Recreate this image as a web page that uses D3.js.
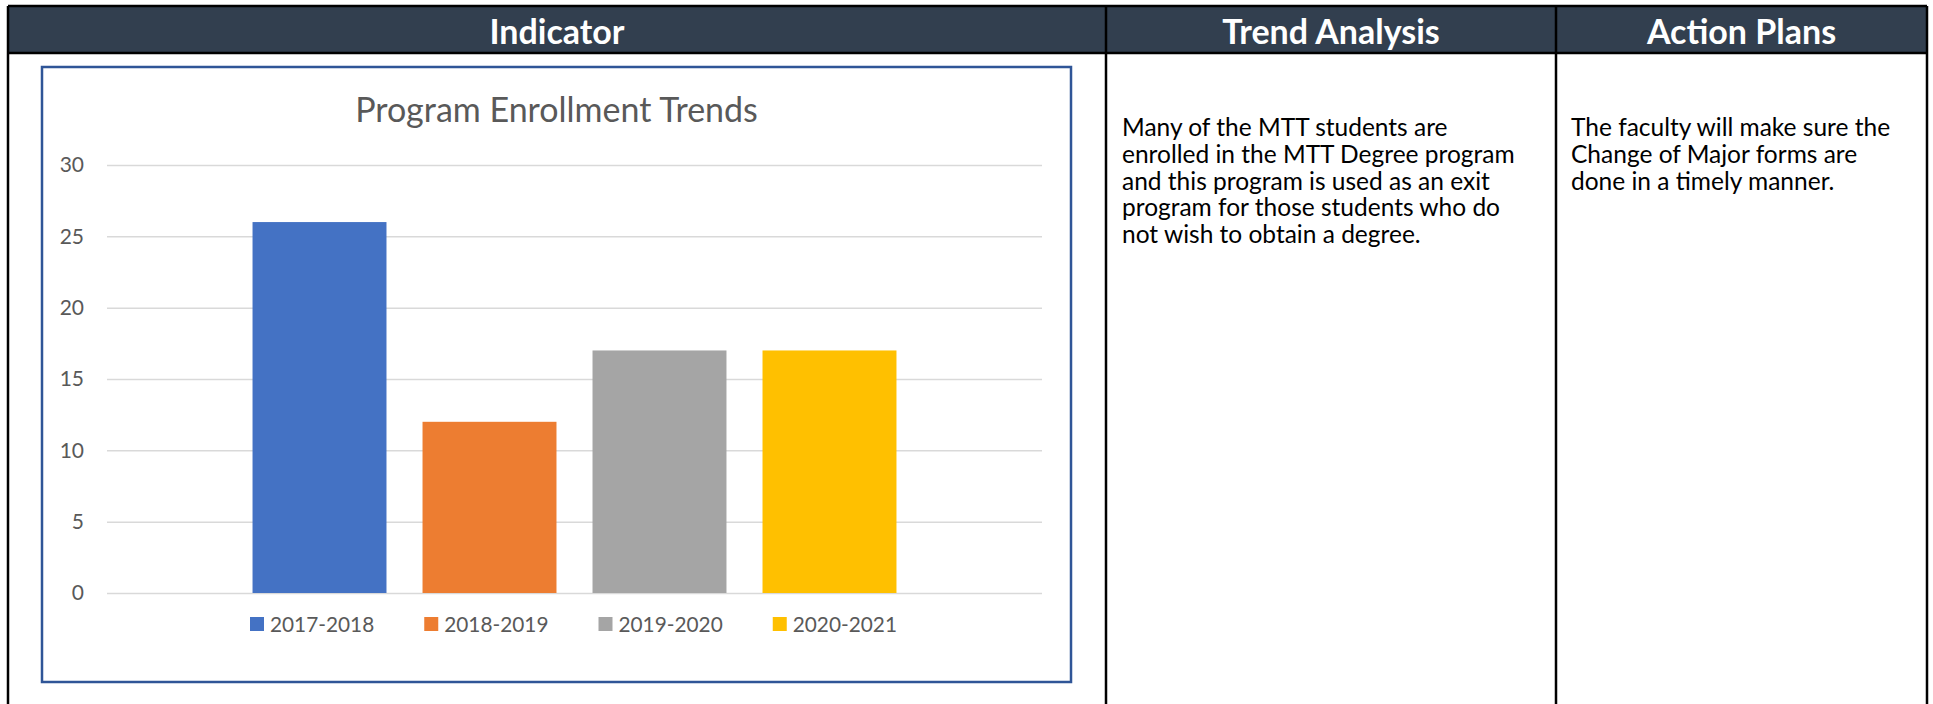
<!DOCTYPE html>
<html>
<head>
<meta charset="utf-8">
<script src="https://cdn.jsdelivr.net/npm/d3@7"></script>
<style>
  html, body { margin: 0; padding: 0; background: #fff; }
  svg { display: block; font-family: Lato, "Noto Sans", sans-serif; }
</style>
</head>
<body>
<svg class="sheet"></svg>
<script>
// table + chart content
var columns = ["Indicator", "Trend Analysis", "Action Plans"];
var trendLines = [
	"Many of the MTT students are",
	"enrolled in the MTT Degree program",
	"and this program is used as an exit",
	"program for those students who do",
	"not wish to obtain a degree."
];
var actionLines = [
	"The faculty will make sure the",
	"Change of Major forms are",
	"done in a timely manner."
];

var chartTitle = "Program Enrollment Trends";
var category = ["Enrollment"];
var seasons = ["2017-2018", "2018-2019", "2019-2020", "2020-2021"];
var enrollment = [26, 12, 17, 17];
var yTicks = [0, 5, 10, 15, 20, 25, 30];
var colors = ["#4472C4", "#ED7D31", "#A5A5A5", "#FFC000"];

var width = 1933, height = 704;
var svg = d3.select(".sheet").attr("width", width).attr("height", height);

// table layout
var tableLeft = 8, tableRight = 1927, tableTop = 6, headBottom = 53;
var colEdges = [tableLeft, 1106, 1556, tableRight];

svg.append("rect")
	.attr("x", tableLeft).attr("y", tableTop)
	.attr("width", tableRight - tableLeft).attr("height", headBottom - tableTop)
	.attr("fill", "#323F4F");

svg.append("g").selectAll("text")
	.data(columns)
	.enter().append("text")
	.attr("x", function (d, i) { return (colEdges[i] + colEdges[i + 1]) / 2; })
	.attr("y", 44)
	.attr("text-anchor", "middle")
	.attr("fill", "#fff")
	.attr("font-weight", "bold")
	.attr("font-size", 34)
	.text(function (d) { return d; });

var lines = svg.append("g").attr("stroke", "#000").attr("stroke-width", 2.5);
lines.append("line").attr("x1", tableLeft).attr("x2", tableRight).attr("y1", tableTop).attr("y2", tableTop);
lines.append("line").attr("x1", tableLeft).attr("x2", tableRight).attr("y1", headBottom).attr("y2", headBottom);
lines.selectAll(".v")
	.data(colEdges)
	.enter().append("line")
	.attr("class", "v")
	.attr("x1", function (d) { return d; }).attr("x2", function (d) { return d; })
	.attr("y1", tableTop).attr("y2", height);

function textBlock(rows, x) {
	svg.append("g").selectAll("text")
		.data(rows)
		.enter().append("text")
		.attr("x", x)
		.attr("y", function (d, i) { return 136 + i * 26.8; })
		.attr("font-size", 24.5)
		.attr("fill", "#000")
		.text(function (d) { return d; });
}
textBlock(trendLines, 1122);
textBlock(actionLines, 1571);

// chart frame
var frame = { left: 42, top: 67, right: 1071, bottom: 682 };
svg.append("rect")
	.attr("x", frame.left).attr("y", frame.top)
	.attr("width", frame.right - frame.left).attr("height", frame.bottom - frame.top)
	.attr("fill", "#fff")
	.attr("stroke", "#2F5597")
	.attr("stroke-width", 2.5);

svg.append("text")
	.attr("x", (frame.left + frame.right) / 2)
	.attr("y", 122)
	.attr("text-anchor", "middle")
	.attr("font-size", 34)
	.attr("fill", "#595959")
	.text(chartTitle);

var plot = { left: 107, right: 1042, top: 165, bottom: 593 };

var y = d3.scaleLinear()
	.domain([0, 30])
	.range([plot.bottom, plot.top]);

var x0 = d3.scaleBand()
	.domain(category)
	.range([plot.left, plot.right])
	.paddingInner(0)
	.paddingOuter(0.226);

var x1 = d3.scaleBand()
	.domain(seasons)
	.range([0, x0.bandwidth()])
	.paddingInner(0.212)
	.paddingOuter(0);

var yAxis = svg.append("g")
	.attr("transform", "translate(" + plot.left + ",0)")
	.call(d3.axisLeft(y)
		.tickValues(yTicks)
		.tickSize(-(plot.right - plot.left))
		.tickPadding(23)
		.tickFormat(d3.format("d")));
yAxis.select(".domain").remove();
yAxis.selectAll(".tick line").attr("stroke", "#D9D9D9").attr("stroke-width", 1.5);
yAxis.selectAll(".tick text")
	.attr("fill", "#595959")
	.attr("font-size", 21)
	.attr("font-family", "Lato, sans-serif");

svg.append("g")
	.selectAll("rect")
	.data(seasons)
	.enter().append("rect")
	.attr("x", function (d) { return x0(category[0]) + x1(d); })
	.attr("width", x1.bandwidth())
	.attr("y", function (d, i) { return y(enrollment[i]); })
	.attr("height", function (d, i) { return y(0) - y(enrollment[i]); })
	.attr("fill", function (d, i) { return colors[i]; });

// legend
var legendX = d3.scaleBand()
	.domain(seasons)
	.range([250, 947]);

var legend = svg.append("g")
	.selectAll("g")
	.data(seasons)
	.enter().append("g")
	.attr("transform", function (d) { return "translate(" + legendX(d) + ",624)"; });
legend.append("rect")
	.attr("x", 0).attr("y", -7)
	.attr("width", 14).attr("height", 14)
	.attr("fill", function (d, i) { return colors[i]; });
legend.append("text")
	.attr("x", 20).attr("y", 7.5)
	.attr("font-size", 20.8)
	.attr("fill", "#595959")
	.text(function (d) { return d; });
</script>
</body>
</html>
